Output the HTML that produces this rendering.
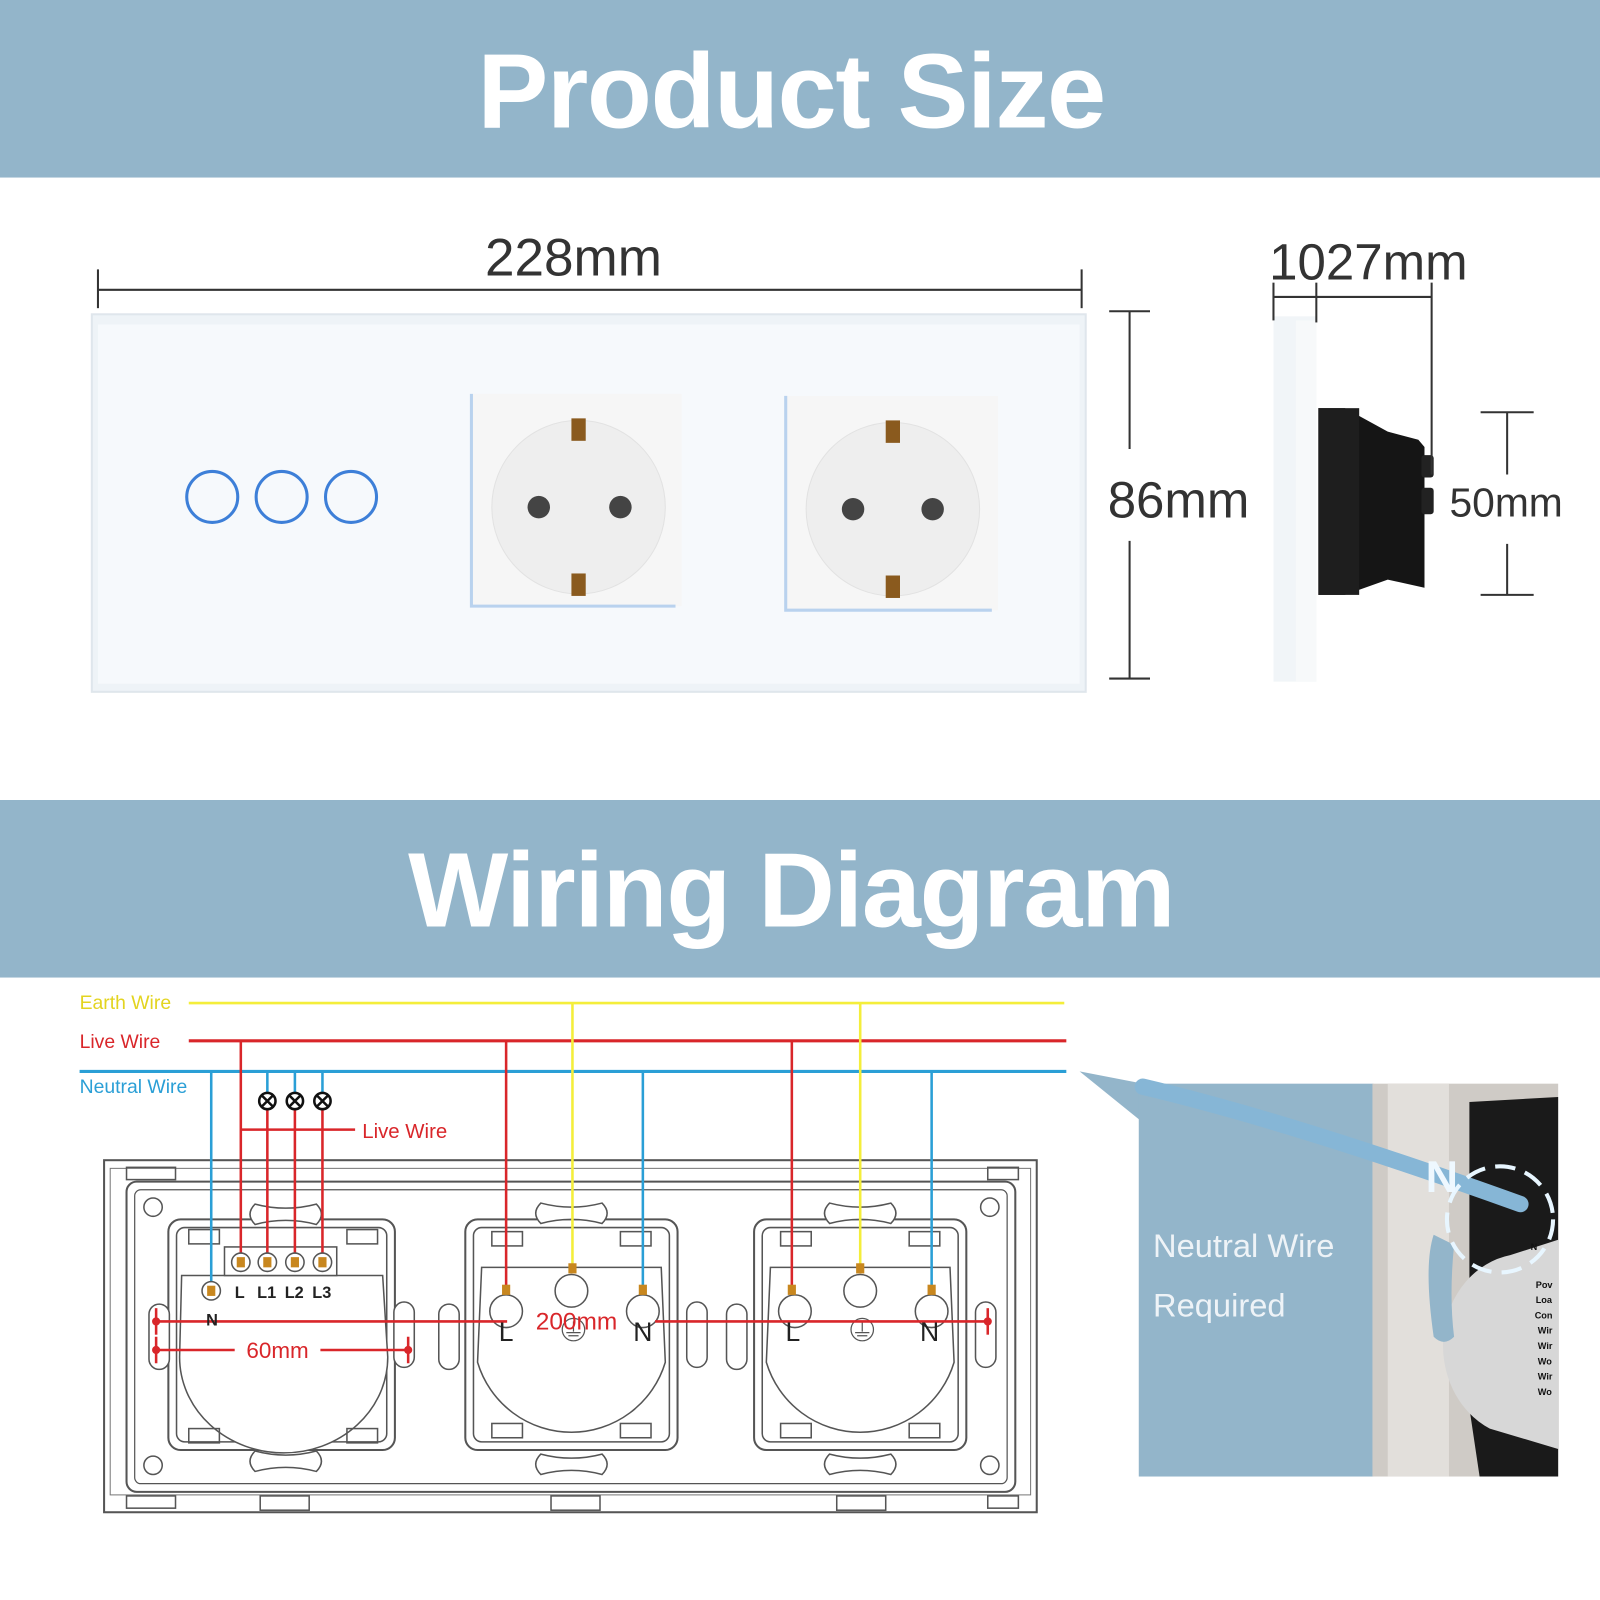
<!DOCTYPE html>
<html><head><meta charset="utf-8"><style>
html,body{margin:0;padding:0;background:#fff;}
svg{display:block;font-family:"Liberation Sans",Arial,sans-serif;}
</style></head><body>
<svg width="1600" height="1600" viewBox="0 0 1568 1568" xmlns="http://www.w3.org/2000/svg">
<defs>
<g id="sock">
  <rect x="-104" y="-120" width="208" height="226" rx="12" fill="none" stroke="#555" stroke-width="2"/>
  <rect x="-96" y="-112" width="192" height="210" rx="8" fill="none" stroke="#555" stroke-width="1.5"/>
  <path d="M-88,-73 L88,-73 L92,20 A96,96 0 0 1 -92,20 Z" fill="#fff" stroke="#555" stroke-width="1.5"/>
  <rect x="-78" y="-108" width="30" height="14" fill="none" stroke="#555" stroke-width="1.5"/>
  <rect x="48" y="-108" width="30" height="14" fill="none" stroke="#555" stroke-width="1.5"/>
  <rect x="-78" y="80" width="30" height="14" fill="none" stroke="#555" stroke-width="1.5"/>
  <rect x="48" y="80" width="30" height="14" fill="none" stroke="#555" stroke-width="1.5"/>
  <path d="M-30,-136 q-10,10 0,20 q30,-8 60,0 q10,-10 0,-20 q-30,8 -60,0z" fill="#fff" stroke="#555" stroke-width="1.5"/>
  <path d="M-30,110 q-10,10 0,20 q30,-8 60,0 q10,-10 0,-20 q-30,8 -60,0z" fill="#fff" stroke="#555" stroke-width="1.5"/>
  <circle cx="-64" cy="-30" r="16" fill="#fff" stroke="#555" stroke-width="1.5"/>
  <circle cx="0" cy="-50" r="16" fill="#fff" stroke="#555" stroke-width="1.5"/>
  <circle cx="70" cy="-30" r="16" fill="#fff" stroke="#555" stroke-width="1.5"/>
  <circle cx="2" cy="-12" r="11" fill="none" stroke="#555" stroke-width="1.2"/>
  <path d="M2,-20 V-10 M-5,-9 H9 M-3,-6 H7" stroke="#555" stroke-width="1.2"/>
</g>
<g id="oval"><rect x="-10" y="-32" width="20" height="64" rx="10" fill="#fff" stroke="#555" stroke-width="1.5"/></g>
</defs>

<rect x="0" y="0" width="1568" height="174" fill="#93b5ca"/>
<text x="776" y="125" font-size="104" font-weight="bold" fill="#fff" text-anchor="middle" textLength="616">Product Size</text>
<rect x="0" y="784" width="1568" height="174" fill="#93b5ca"/>
<text x="776" y="908" font-size="104" font-weight="bold" fill="#fff" text-anchor="middle" textLength="752">Wiring Diagram</text>

<g stroke="#333" stroke-width="2">
<line x1="96" y1="284" x2="1060" y2="284"/><line x1="96" y1="264" x2="96" y2="302"/><line x1="1060" y1="264" x2="1060" y2="302"/>
</g>
<text x="562" y="270" font-size="52" fill="#333" text-anchor="middle">228mm</text>

<rect x="90" y="308" width="974" height="370" fill="#eef3f7" stroke="#dfe6ec" stroke-width="2"/>
<rect x="96" y="318" width="962" height="352" fill="#f6f9fc"/>
<g fill="none" stroke="#3d7fd8" stroke-width="3">
<circle cx="208" cy="487" r="25"/><circle cx="276" cy="487" r="25"/><circle cx="344" cy="487" r="25"/>
</g>
<g>
<rect x="462" y="386" width="206" height="208" fill="#f6f6f6"/>
<path d="M462,386 V594 H662" fill="none" stroke="#b9d2ee" stroke-width="3"/>
<circle cx="567" cy="497" r="85" fill="#eeeeee" stroke="#e2e2e2"/>
<circle cx="528" cy="497" r="11" fill="#444"/><circle cx="608" cy="497" r="11" fill="#444"/>
<rect x="560" y="410" width="14" height="22" fill="#8a5a1e"/><rect x="560" y="562" width="14" height="22" fill="#8a5a1e"/>
<rect x="770" y="388" width="208" height="210" fill="#f6f6f6"/>
<path d="M770,388 V598 H972" fill="none" stroke="#b9d2ee" stroke-width="3"/>
<circle cx="875" cy="499" r="85" fill="#eeeeee" stroke="#e2e2e2"/>
<circle cx="836" cy="499" r="11" fill="#444"/><circle cx="914" cy="499" r="11" fill="#444"/>
<rect x="868" y="412" width="14" height="22" fill="#8a5a1e"/><rect x="868" y="564" width="14" height="22" fill="#8a5a1e"/>
</g>

<g stroke="#333" stroke-width="2">
<line x1="1107" y1="305" x2="1107" y2="440"/><line x1="1107" y1="530" x2="1107" y2="665"/>
<line x1="1087" y1="305" x2="1127" y2="305"/><line x1="1087" y1="665" x2="1127" y2="665"/>
</g>
<text x="1155" y="507" font-size="50" fill="#333" text-anchor="middle">86mm</text>

<rect x="1248" y="310" width="42" height="358" fill="#f1f5f8"/>
<rect x="1270" y="314" width="20" height="354" fill="#f7f9fa"/>
<path d="M1292,400 L1318,400 L1360,423 L1390,431 L1396,438 L1396,576 L1360,568 L1318,583 L1292,583 Z" fill="#151515"/>
<rect x="1292" y="400" width="40" height="183" fill="#1e1e1e"/>
<rect x="1393" y="446" width="12" height="22" rx="3" fill="#222"/><rect x="1393" y="478" width="12" height="26" rx="3" fill="#222"/>
<g stroke="#333" stroke-width="2">
<line x1="1248" y1="291" x2="1403" y2="291"/>
<line x1="1248" y1="277" x2="1248" y2="314"/><line x1="1290" y1="277" x2="1290" y2="316"/><line x1="1403" y1="277" x2="1403" y2="465"/>
<line x1="1477" y1="404" x2="1477" y2="465"/><line x1="1477" y1="533" x2="1477" y2="583"/>
<line x1="1451" y1="404" x2="1503" y2="404"/><line x1="1451" y1="583" x2="1503" y2="583"/>
</g>
<text x="1341" y="274" font-size="50" fill="#333" text-anchor="middle">1027mm</text>
<text x="1476" y="506" font-size="40" fill="#333" text-anchor="middle">50mm</text>

<rect x="102" y="1137" width="914" height="345" fill="#fff" stroke="#555" stroke-width="2"/>
<rect x="108" y="1145" width="902" height="320" fill="none" stroke="#777" stroke-width="1"/>
<rect x="124" y="1158" width="871" height="304" rx="10" fill="none" stroke="#555" stroke-width="2"/>
<rect x="132" y="1166" width="855" height="288" rx="6" fill="none" stroke="#555" stroke-width="1.2"/>
<g fill="none" stroke="#555" stroke-width="1.5">
<circle cx="150" cy="1183" r="9"/><circle cx="970" cy="1183" r="9"/><circle cx="150" cy="1436" r="9"/><circle cx="970" cy="1436" r="9"/>
<rect x="124" y="1144" width="48" height="12"/><rect x="968" y="1144" width="30" height="12"/>
<rect x="124" y="1466" width="48" height="12"/><rect x="968" y="1466" width="30" height="12"/>
<rect x="255" y="1466" width="48" height="14"/><rect x="540" y="1466" width="48" height="14"/><rect x="820" y="1466" width="48" height="14"/>
</g>
<g fill="none" stroke="#555" stroke-width="1.5">
<rect x="165" y="1195" width="222" height="226" rx="12" stroke-width="2"/>
<rect x="173" y="1203" width="206" height="210" rx="8"/>
<path d="M178,1250 L375,1250 L380,1330 A100,92 0 0 1 176,1330 Z" fill="#fff"/>
<rect x="220" y="1222" width="110" height="28" fill="#fff"/>
<path d="M250,1180 q-10,10 0,20 q30,-8 60,0 q10,-10 0,-20 q-30,8 -60,0z" fill="#fff"/>
<path d="M250,1422 q-10,10 0,20 q30,-8 60,0 q10,-10 0,-20 q-30,8 -60,0z" fill="#fff"/>
<rect x="185" y="1205" width="30" height="14"/><rect x="340" y="1205" width="30" height="14"/>
<rect x="185" y="1400" width="30" height="14"/><rect x="340" y="1400" width="30" height="14"/>
</g>
<use href="#oval" x="156" y="1310"/><use href="#oval" x="396" y="1308"/>
<use href="#oval" x="440" y="1310"/><use href="#oval" x="683" y="1308"/>
<use href="#oval" x="722" y="1310"/><use href="#oval" x="966" y="1308"/>
<use href="#sock" x="560" y="1315"/>
<use href="#sock" x="843" y="1315"/>

<g stroke-width="2.5" fill="none">
<line x1="185" y1="983" x2="1043" y2="983" stroke="#f4ee3a"/>
<line x1="185" y1="1020" x2="1045" y2="1020" stroke="#d9262a" stroke-width="3"/>
<line x1="78" y1="1050" x2="1045" y2="1050" stroke="#2a9fd6" stroke-width="3"/>
<line x1="207" y1="1050" x2="207" y2="1265" stroke="#2a9fd6"/>
<line x1="236" y1="1020" x2="236" y2="1237" stroke="#d9262a"/>
<line x1="236" y1="1107" x2="348" y2="1107" stroke="#d9262a"/>
<g stroke="#2a9fd6"><line x1="262" y1="1050" x2="262" y2="1071"/><line x1="289" y1="1050" x2="289" y2="1071"/><line x1="316" y1="1050" x2="316" y2="1071"/></g>
<g stroke="#d9262a"><line x1="262" y1="1087" x2="262" y2="1237"/><line x1="289" y1="1087" x2="289" y2="1237"/><line x1="316" y1="1087" x2="316" y2="1237"/></g>
<line x1="496" y1="1020" x2="496" y2="1264" stroke="#d9262a"/>
<line x1="561" y1="983" x2="561" y2="1243" stroke="#f4ee3a"/>
<line x1="630" y1="1050" x2="630" y2="1264" stroke="#2a9fd6"/>
<line x1="776" y1="1020" x2="776" y2="1264" stroke="#d9262a"/>
<line x1="843" y1="983" x2="843" y2="1243" stroke="#f4ee3a"/>
<line x1="913" y1="1050" x2="913" y2="1264" stroke="#2a9fd6"/>
<line x1="153" y1="1295" x2="497" y2="1295" stroke="#d9262a"/>
<line x1="642" y1="1295" x2="968" y2="1295" stroke="#d9262a"/>
<line x1="153" y1="1323" x2="230" y2="1323" stroke="#d9262a"/>
<line x1="314" y1="1323" x2="400" y2="1323" stroke="#d9262a"/>
<line x1="153" y1="1282" x2="153" y2="1308" stroke="#d9262a"/><line x1="968" y1="1282" x2="968" y2="1308" stroke="#d9262a"/>
<line x1="153" y1="1310" x2="153" y2="1336" stroke="#d9262a"/><line x1="400" y1="1310" x2="400" y2="1336" stroke="#d9262a"/>
</g>
<g fill="#d9262a"><circle cx="153" cy="1295" r="4"/><circle cx="968" cy="1295" r="4"/><circle cx="153" cy="1323" r="4"/><circle cx="400" cy="1323" r="4"/></g>
<g fill="#fff" stroke="#111" stroke-width="2.5">
<circle cx="262" cy="1079" r="8"/><circle cx="289" cy="1079" r="8"/><circle cx="316" cy="1079" r="8"/>
<path d="M256,1073 l12,12 M268,1073 l-12,12 M283,1073 l12,12 M295,1073 l-12,12 M310,1073 l12,12 M322,1073 l-12,12"/>
</g>
<g fill="#fff" stroke="#555" stroke-width="1.5">
<circle cx="236" cy="1237" r="9"/><circle cx="262" cy="1237" r="9"/><circle cx="289" cy="1237" r="9"/><circle cx="316" cy="1237" r="9"/><circle cx="207" cy="1265" r="9"/>
</g>
<g fill="#c8871f">
<rect x="232" y="1232" width="8" height="10"/><rect x="258" y="1232" width="8" height="10"/><rect x="285" y="1232" width="8" height="10"/><rect x="312" y="1232" width="8" height="10"/><rect x="203" y="1260" width="8" height="10"/>
<rect x="492" y="1259" width="8" height="10"/><rect x="557" y="1238" width="8" height="10"/><rect x="626" y="1259" width="8" height="10"/>
<rect x="772" y="1259" width="8" height="10"/><rect x="839" y="1238" width="8" height="10"/><rect x="909" y="1259" width="8" height="10"/>
</g>
<g font-size="16" font-weight="bold" fill="#222">
<text x="230" y="1272">L</text><text x="252" y="1272">L1</text><text x="279" y="1272">L2</text><text x="306" y="1272">L3</text>
<text x="202" y="1299">N</text>
</g>
<g font-size="26" fill="#222" text-anchor="middle">
<text x="496" y="1314">L</text><text x="630" y="1314">N</text><text x="777" y="1314">L</text><text x="911" y="1314">N</text>
</g>
<text x="565" y="1303" font-size="24" fill="#d9262a" text-anchor="middle">200mm</text>
<text x="272" y="1331" font-size="22" fill="#d9262a" text-anchor="middle">60mm</text>
<text x="355" y="1115" font-size="20" fill="#d9262a">Live Wire</text>
<text x="78" y="989" font-size="19" fill="#e3d420">Earth Wire</text>
<text x="78" y="1027" font-size="19" fill="#d9262a">Live Wire</text>
<text x="78" y="1071" font-size="19" fill="#2a9fd6">Neutral Wire</text>

<path d="M1058,1050 L1120,1062 L1120,1100 Z" fill="#93b5ca"/>
<rect x="1116" y="1062" width="230" height="385" fill="#93b5ca"/>
<rect x="1345" y="1062" width="182" height="385" fill="#cfcbc6"/>
<rect x="1360" y="1062" width="60" height="385" fill="#e2dfdb"/>
<path d="M1440,1080 L1527,1075 L1527,1447 L1450,1447 L1440,1380 Z" fill="#1a1a1a"/>
<path d="M1480,1230 A80,90 0 0 0 1460,1400 L1527,1420 L1527,1215 Z" fill="#d7d7d7"/>
<path d="M1120,1065 Q1268,1100 1490,1180" stroke="#86b6d6" stroke-width="16" fill="none" stroke-linecap="round"/>
<path d="M1405,1210 q-10,30 0,100 q10,10 20,0 q-5,-40 0,-90 z" fill="#93b5ca"/>
<circle cx="1470" cy="1195" r="52" fill="none" stroke="#e8f6ff" stroke-width="4" stroke-dasharray="20 10"/>
<text x="1413" y="1168" font-size="44" font-weight="bold" fill="#eef8ff" text-anchor="middle">N</text>
<g font-size="9" font-weight="bold" fill="#111"><text x="1500" y="1225">N</text><text x="1505" y="1262">Pov</text><text x="1505" y="1277">Loa</text><text x="1504" y="1292">Con</text><text x="1507" y="1307">Wir</text><text x="1507" y="1322">Wir</text><text x="1507" y="1337">Wo</text><text x="1507" y="1352">Wir</text><text x="1507" y="1367">Wo</text></g>
<text x="1130" y="1232" font-size="32" fill="#eef3f7">Neutral Wire</text>
<text x="1130" y="1290" font-size="32" fill="#eef3f7">Required</text>
</svg>
</body></html>
